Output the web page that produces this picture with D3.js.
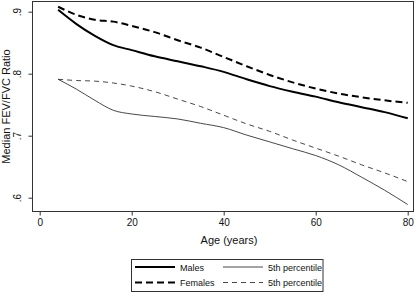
<!DOCTYPE html>
<html><head><meta charset="utf-8">
<script src="https://cdn.jsdelivr.net/npm/d3@7"></script>
<style>body{margin:0;background:#fff}svg{display:block;font-family:"Liberation Sans",Arial,sans-serif}</style>
</head><body>
<script>
const ages = [4, 8, 12, 16, 20, 25, 30, 35, 40, 45, 50, 55, 60, 65, 70, 75, 80];
const males = [0.903, 0.880, 0.861, 0.846, 0.838, 0.828, 0.820, 0.812, 0.803, 0.791, 0.780, 0.771, 0.763, 0.754, 0.746, 0.738, 0.728];
const females = [0.908, 0.895, 0.887, 0.884, 0.877, 0.867, 0.854, 0.842, 0.827, 0.812, 0.798, 0.786, 0.776, 0.768, 0.762, 0.757, 0.753];
const males5th = [0.791, 0.775, 0.757, 0.741, 0.735, 0.731, 0.727, 0.720, 0.713, 0.701, 0.690, 0.679, 0.668, 0.653, 0.633, 0.612, 0.589];
const females5th = [0.791, 0.789, 0.788, 0.785, 0.780, 0.771, 0.759, 0.747, 0.733, 0.719, 0.707, 0.693, 0.680, 0.667, 0.653, 0.640, 0.626];
const xTicks = [0, 20, 40, 60, 80];
const yTicks = [0.6, 0.7, 0.8, 0.9];
const yTickLabels = [".6", ".7", ".8", ".9"];
const seriesNames = ["Males", "Females", "5th percentile", "5th percentile"];

const W = 415, H = 293;
const svg = d3.select("body").append("svg").attr("width", W).attr("height", H);
const L = 32.5, R = 413.5, T = 1.5, B = 211.5;
const x = d3.scaleLinear().domain([0, 80]).range([39.7, 407.7]);
const y = d3.scaleLinear().domain([0.6, 0.9]).range([197.7, 11.7]);

svg.append("rect").attr("x", L).attr("y", T).attr("width", R - L).attr("height", B - T)
  .attr("fill", "none").attr("stroke", "#333").attr("stroke-width", 1);

// x axis
const xa = svg.append("g").attr("transform", `translate(0,${B})`)
  .call(d3.axisBottom(x).tickValues(xTicks).tickSize(4).tickPadding(3).tickFormat(d3.format("d")));
xa.select(".domain").remove();
xa.selectAll("line").attr("stroke", "#333");
xa.selectAll("text").attr("font-size", 10).attr("fill", "#111");

// y axis
const ya = svg.append("g").attr("transform", `translate(${L},0)`)
  .call(d3.axisLeft(y).tickValues(yTicks).tickSize(4).tickFormat((d, i) => yTickLabels[i]));
ya.select(".domain").remove();
ya.selectAll("line").attr("stroke", "#333");
ya.selectAll("text").attr("font-size", 10).attr("fill", "#111")
  .attr("x", 0).attr("dy", 0).attr("text-anchor", "middle")
  .attr("transform", "translate(-12,0) rotate(-90)");

svg.append("text").attr("x", (L + R) / 2 + 6).attr("y", 244).attr("text-anchor", "middle")
  .attr("font-size", 11).attr("fill", "#111").text("Age (years)");
svg.append("text").attr("transform", `translate(10,${(T + B) / 2}) rotate(-90)`)
  .attr("text-anchor", "middle").attr("font-size", 11).attr("fill", "#111").text("Median FEV/FVC Ratio");

const line = d3.line().x((d, i) => x(ages[i])).y(d => y(d)).curve(d3.curveMonotoneX);
const styles = [
  {data: males, w: 2, dash: null, c: "#000"},
  {data: females, w: 2, dash: "7,4", c: "#000"},
  {data: males5th, w: 0.9, dash: null, c: "#333"},
  {data: females5th, w: 0.9, dash: "5,4", c: "#333"}
];
styles.forEach(s => {
  svg.append("path").attr("d", line(s.data)).attr("fill", "none")
    .attr("stroke", s.c).attr("stroke-width", s.w).attr("stroke-dasharray", s.dash);
});

// legend
const lg = svg.append("g");
lg.append("rect").attr("x", 131.5).attr("y", 259.5).attr("width", 191.5).attr("height", 32)
  .attr("fill", "#fff").attr("stroke", "#333").attr("stroke-width", 1);
const legendPos = [[135, 267], [135, 282.5], [223, 267], [223, 282.5]];
styles.forEach((s, k) => {
  const [px, py] = legendPos[k];
  lg.append("line").attr("x1", px).attr("x2", px + 40).attr("y1", py).attr("y2", py)
    .attr("stroke", s.c).attr("stroke-width", s.w).attr("stroke-dasharray", s.dash);
  lg.append("text").attr("x", px + 45).attr("y", py + 3.5).attr("font-size", 9)
    .attr("fill", "#111").text(seriesNames[k]);
});
</script>
</body></html>
